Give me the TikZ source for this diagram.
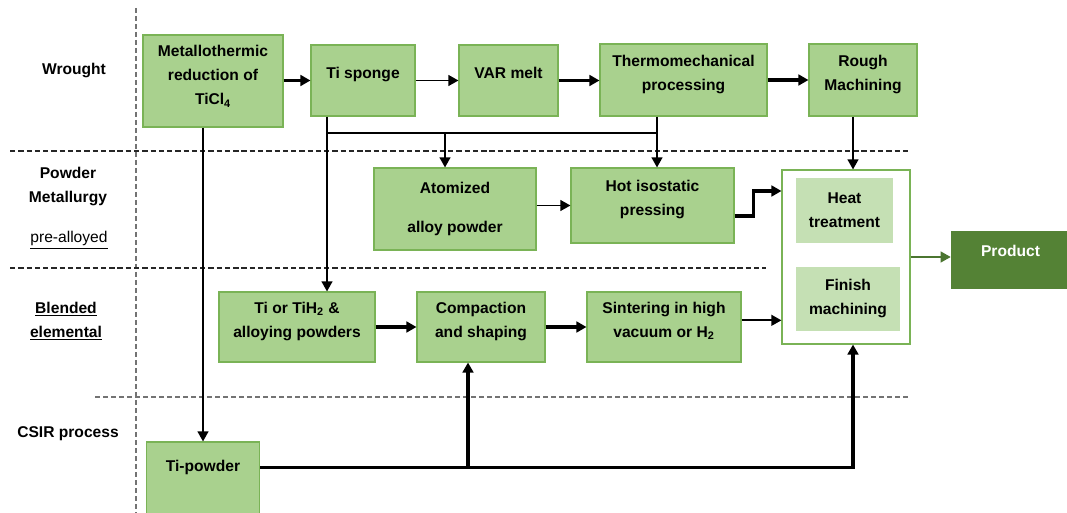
\documentclass[tikz,border=0pt]{standalone}
\usepackage{fontspec}
\setmainfont{Liberation Sans}
\usetikzlibrary{arrows.meta}
\definecolor{boxfill}{HTML}{A9D18E}
\definecolor{boxline}{HTML}{7AB356}
\definecolor{softfill}{HTML}{C5E0B4}
\definecolor{prodfill}{HTML}{548235}

\begin{document}
\begin{tikzpicture}[x=0.75pt,y=-0.75pt,
  font=\fontsize{11.7}{18}\selectfont\bfseries,
  >={Triangle[length=7.5pt,width=8pt]},
  stage/.style={draw=boxline,fill=boxfill,line width=0.8pt,align=center,inner sep=2pt},
  sz/.style 2 args={minimum width=#1*0.75pt,minimum height=#2*0.75pt},
  lift/.style={execute at end node={\rule[-#1]{0pt}{0pt}}},
  side/.style={align=center},
  flow/.style={->,line width=1.4pt},
  bold flow/.style={->,line width=2.5pt},
  band/.style={black!85,line width=1.5pt,dash pattern=on 4pt off 2.2pt},
  faint/.style={black!55,line width=0.8pt,dash pattern=on 4pt off 2pt}]
  \useasboundingbox (0,0) rectangle (1067,513);

  % lanes
  \draw[faint] (136,8) -- (136,513);
  \draw[band] (10,151) -- (908,151);
  \draw[band] (10,268) -- (766,268);
  \draw[faint] (95,397) -- (910,397);

  \node[side] (wrought) at (74,71) {Wrought};
  \node[side] (pm) at (68,187) {Powder\\Metallurgy};
  \node[font=\fontsize{11.7}{18}\selectfont\mdseries] (prealloy) at (69,240) {\underline{pre-alloyed}};
  \node[side] (blended) at (66,321) {\underline{Blended}\\\underline{elemental}};
  \node (csir) at (68,434) {CSIR process};

  % process steps
  \node[stage,sz={140}{92},lift=9pt] (metal) at (213,81)
    {Metallothermic\\reduction of\\TiCl\textsubscript{4}};
  \node[stage,sz={104}{71},lift=11pt] (sponge) at (363,80.5) {Ti sponge};
  \node[stage,sz={99}{71},lift=11pt] (var) at (508.5,80.5) {VAR melt};
  \node[stage,sz={167}{72},lift=11pt] (thermo) at (683.5,80)
    {Thermomechanical\\processing};
  \node[stage,sz={108}{72},lift=11pt] (rough) at (863,80) {Rough\\Machining};
  \node[stage,sz={162}{82}] (atom) at (455,209) {Atomized\\[11pt]alloy powder};
  \node[stage,sz={163}{75},lift=11pt] (hip) at (652.5,205.5) {Hot isostatic\\pressing};
  \node[draw=boxline,fill=white,line width=0.8pt,sz={128}{174}] (post) at (846,257) {};
  \node[fill=softfill,sz={97}{65},align=center] (heat) at (844.5,210.5) {Heat\\treatment};
  \node[fill=softfill,sz={104}{64},align=center] (finish) at (848,299) {Finish\\machining};
  \node[fill=prodfill,text=white,sz={119}{58},lift=14pt] (product) at (1010.5,260) {Product};
  \node[stage,sz={156}{70},lift=11pt] (blend) at (297,327)
    {Ti or TiH\textsubscript{2} \&\\alloying powders};
  \node[stage,sz={128}{70},lift=11pt] (compact) at (481,327) {Compaction\\and shaping};
  \node[stage,sz={154}{70},lift=11pt] (sinter) at (664,327)
    {Sintering in high\\vacuum or H\textsubscript{2}};
  \node[stage,sz={113}{83},lift=27pt] (tipow) at (203,483.5) {Ti-powder};

  \coordinate (split) at (327,133);
  \coordinate (tap) at (657,133);
  \coordinate (atap) at (445,133);
  \coordinate (drop) at (853,0);
  \coordinate (cup) at (468,0 |- tipow.mid east);

  % connectors
  \draw[bold flow] (metal.east |- sponge) -- (sponge.west);
  \draw[flow] (sponge) -- (var);
  \draw[bold flow] (var.east) -- (var.east -| thermo.west);
  \draw[bold flow] (thermo.east) -- (thermo.east -| rough.west);
  \draw[flow] (metal.south -| tipow.north) -- (tipow.north);
  \draw[flow] (sponge.south -| split) -- (split |- blend.north);
  \draw[line width=1.4pt] (split) -- (tap);
  \draw[flow] (thermo.south -| tap) -- (tap |- hip.north);
  \draw[flow] (atap) -- (atap |- atom.north);
  \draw[flow] (rough.south -| drop) -- (drop |- post.north);
  \draw[flow] (atom.east |- hip) -- (hip.west);
  \draw[bold flow] ([yshift=-8pt]hip.east) -- ++(19,0) |- ([yshift=49.5pt]post.west);
  \draw[bold flow] (blend) -- (compact);
  \draw[bold flow] (compact) -- (sinter);
  \draw[flow] ([yshift=5pt]sinter.east) -- ([yshift=5pt]sinter.east -| post.west);
  \draw[bold flow] (tipow.mid east) -| (drop |- post.south);
  \draw[bold flow] (cup) -- (cup |- compact.south);
  \draw[->,prodfill!90!black,line width=1.5pt] (post.east) -- (post.east -| product.west);
\end{tikzpicture}
\end{document}
